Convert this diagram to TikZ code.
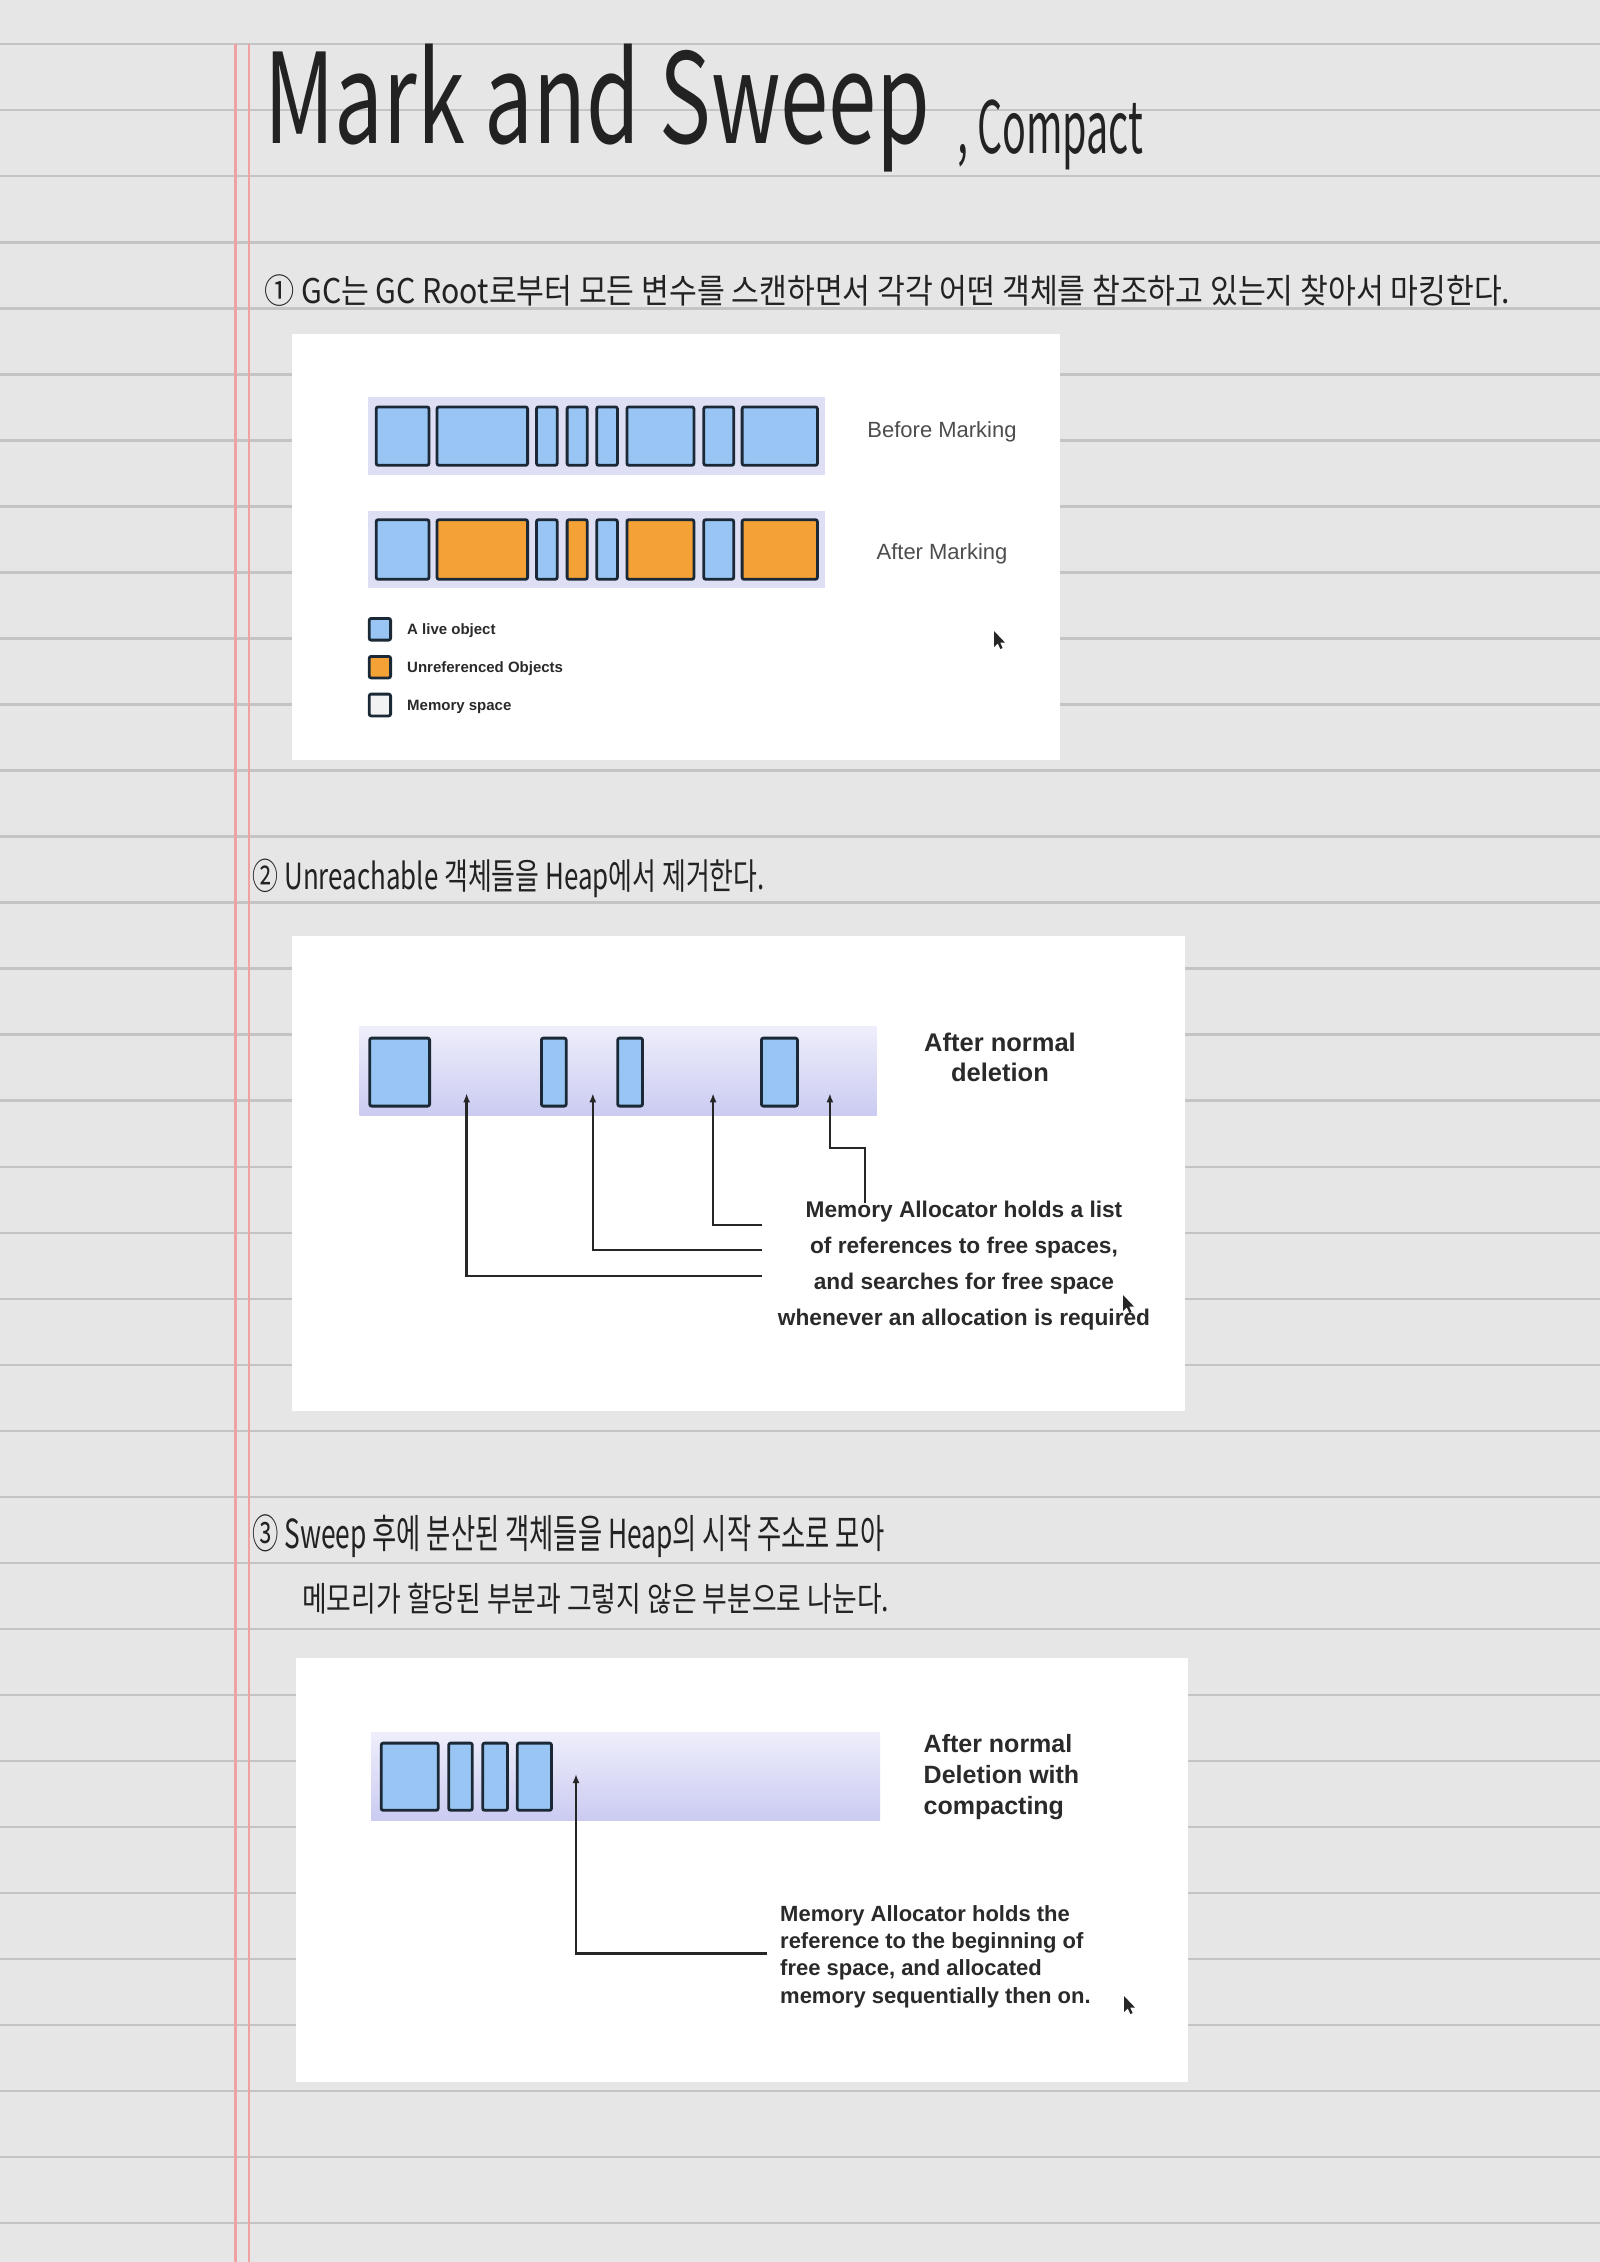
\documentclass[tikz,border=0pt]{standalone}
\usepackage{fontspec}
\setmainfont{Liberation Sans}
\newfontfamily\handfont{Noto Sans CJK KR}
\usetikzlibrary{arrows.meta}
\definecolor{gpaper}{HTML}{E6E6E6}
\definecolor{grule}{HTML}{C4C4C4}
\definecolor{gmargin}{HTML}{F0A2A2}
\definecolor{gbar}{HTML}{DEDEF5}
\definecolor{gbarhi}{HTML}{EEEEFB}
\definecolor{gbarlo}{HTML}{CBCBF2}
\definecolor{glive}{HTML}{98C5F4}
\definecolor{gdead}{HTML}{F4A236}
\definecolor{gfree}{HTML}{F2F2F2}
\definecolor{gedge}{HTML}{1B2836}
\definecolor{gink}{HTML}{262626}
\definecolor{gpen}{HTML}{222222}
\definecolor{gtext}{HTML}{2A2A2A}
\definecolor{gmuted}{HTML}{4D4D4D}
\newcommand{\glabel}{\fontsize{22}{26}\selectfont}
\newcommand{\gsmall}{\fontsize{15}{18}\selectfont\bfseries}
\newcommand{\scrawl}[3]{\resizebox{#1}{\height}{\fontsize{#2}{#2}\selectfont\handfont #3}}

\begin{document}
\begin{tikzpicture}[x=1pt,y=-1pt,
  live/.style={draw=gedge,line width=2.8pt,rounded corners=2pt,fill=glive},
  dead/.style={draw=gedge,line width=2.8pt,rounded corners=2pt,fill=gdead},
  spare/.style={draw=gedge,line width=2.8pt,rounded corners=2pt,fill=gfree},
  ptr/.style={gink,line width=2.5pt,-{Latex[length=9pt,width=7pt]}},
  mouse/.style={fill=black!85},
  hand/.style={anchor=base west,inner sep=0,text=gpen}]
\useasboundingbox (0,0) rectangle (1600,2262);
\fill[gpaper] (0,0) rectangle (1600,2262);
\foreach \k in {0,...,33} \draw[grule,line width=2.3pt] (0,{44.3+66.02*\k}) -- (1600,{44.3+66.02*\k});
\draw[gmargin,line width=3pt] (235.6,44) -- (235.6,2262);
\draw[gmargin,line width=2.2pt] (248.8,44) -- (248.8,2262);
\node[hand] (title) at (264,143) {\scrawl{666pt}{125}{Mark and Sweep}};
\node[hand] (compact) at (957,153) {\scrawl{186pt}{72}{, Compact}};
\node[hand] (step1) at (264,303) {\scrawl{1246pt}{34}{① GC는 GC Root로부터 모든 변수를 스캔하면서 각각 어떤 객체를 참조하고 있는지 찾아서 마킹한다.}};
\fill[white] (292,334) rectangle (1060,760);
\fill[gbar] (367.7,396.7) rectangle (825,475);
\draw[live] (376.2,406.9) rectangle (429.0,465.3); \draw[live] (437.0,406.9) rectangle (527.6,465.3);
\draw[live] (536.5,406.9) rectangle (557.2,465.3); \draw[live] (567.1,406.9) rectangle (587.3,465.3);
\draw[live] (596.7,406.9) rectangle (617.4,465.3); \draw[live] (626.9,406.9) rectangle (693.9,465.3);
\draw[live] (703.8,406.9) rectangle (733.7,465.3); \draw[live] (742.1,406.9) rectangle (817.4,465.3);
\node[text=gmuted,font=\glabel] (before) at (942,432) {Before Marking};
\fill[gbar] (367.7,510.7) rectangle (825,588.3);
\draw[live] (376.2,519.7) rectangle (429.0,579.3); \draw[dead] (437.0,519.7) rectangle (527.6,579.3);
\draw[live] (536.5,519.7) rectangle (557.2,579.3); \draw[dead] (567.1,519.7) rectangle (587.3,579.3);
\draw[live] (596.7,519.7) rectangle (617.4,579.3); \draw[dead] (626.9,519.7) rectangle (693.9,579.3);
\draw[live] (703.8,519.7) rectangle (733.7,579.3); \draw[dead] (742.1,519.7) rectangle (817.4,579.3);
\node[text=gmuted,font=\glabel] (after) at (942,554) {After Marking};
\draw[live] (369.2,618.4) rectangle (390.6,640.1);
\node[anchor=west,inner sep=0,text=gtext,font=\gsmall] (kalive) at (407,631) {A live object};
\draw[dead] (369.2,656.4) rectangle (390.6,677.9);
\node[anchor=west,inner sep=0,text=gtext,font=\gsmall] (kdead) at (407,669) {Unreferenced Objects};
\draw[spare] (369.2,694.1) rectangle (390.6,715.9);
\node[anchor=west,inner sep=0,text=gtext,font=\gsmall] (kfree) at (407,707) {Memory space};
\fill[mouse] (994,631) -- ++(0,16) -- ++(3.8,-3.6) -- ++(2.6,5.6) -- ++(2.2,-1) -- ++(-2.4,-5.4) -- ++(4.8,0) -- cycle;
\node[hand] (step2) at (252.5,889) {\scrawl{512pt}{36}{② Unreachable 객체들을 Heap에서 제거한다.}};
\fill[white] (292,936) rectangle (1185,1411);
\shade[top color=gbarhi,bottom color=gbarlo] (359.5,1026.7) rectangle (876.5,1115.5);
\draw[live] (369.7,1038.1) rectangle (429.6,1106.1); \draw[live] (541.4,1038.1) rectangle (566.2,1106.1);
\draw[live] (617.7,1038.1) rectangle (642.5,1106.1); \draw[live] (761.4,1038.1) rectangle (797.4,1106.1);
\node[text=gtext,font=\fontsize{25.5}{30}\selectfont\bfseries,align=center] (normal) at (1000,1057) {After normal\\deletion};
\node[text=gtext,font=\fontsize{22.7}{36}\selectfont\bfseries,align=center] (alloc) at (964,1266) {Memory Allocator holds a list\\of references to free spaces,\\and searches for free space\\whenever an allocation is required};
\coordinate (f1) at (466.6,1093.3); \coordinate (f2) at (592.8,1093.3);
\coordinate (f3) at (713.1,1093.3); \coordinate (f4) at (829.9,1093.3);
\coordinate (e1) at (762,1276); \coordinate (e2) at (762,1250);
\coordinate (e3) at (762,1225); \coordinate (e4) at (865,1203); \coordinate (k4) at (865,1148);
\draw[ptr] (e1) -| (f1); \draw[ptr] (e2) -| (f2); \draw[ptr] (e3) -| (f3);
\draw[ptr] (e4) -- (k4) -| (f4);
\fill[mouse] (1123,1295) -- ++(0,16) -- ++(3.8,-3.6) -- ++(2.6,5.6) -- ++(2.2,-1) -- ++(-2.4,-5.4) -- ++(4.8,0) -- cycle;
\node[hand] (step3) at (252,1548) {\scrawl{632pt}{40}{③ Sweep 후에 분산된 객체들을 Heap의 시작 주소로 모아}};
\node[hand] (step3b) at (302,1611) {\scrawl{587pt}{34}{메모리가 할당된 부분과 그렇지 않은 부분으로 나눈다.}};
\fill[white] (296,1657.5) rectangle (1188,2082);
\shade[top color=gbarhi,bottom color=gbarlo] (371,1732.7) rectangle (880,1820);
\draw[live] (381.2,1743.1) rectangle (438.2,1810.3); \draw[live] (448.7,1743.1) rectangle (472.3,1810.3);
\draw[live] (482.7,1743.1) rectangle (507.5,1810.3); \draw[live] (517.3,1743.1) rectangle (551.5,1810.3);
\node[anchor=west,text=gtext,font=\fontsize{25}{30.8}\selectfont\bfseries,align=left,inner sep=0] (compacted) at (923.5,1777) {After normal\\Deletion with\\compacting};
\node[anchor=west,text=gtext,font=\fontsize{22}{27.4}\selectfont\bfseries,align=left,inner sep=0] (head) at (780,1956.5) {Memory Allocator holds the\\reference to the beginning of\\free space, and allocated\\memory sequentially then on.};
\coordinate (f5) at (576,1774); \coordinate (e5) at (767,1953.3);
\draw[ptr] (e5) -| (f5);
\fill[mouse] (1124,1996) -- ++(0,16) -- ++(3.8,-3.6) -- ++(2.6,5.6) -- ++(2.2,-1) -- ++(-2.4,-5.4) -- ++(4.8,0) -- cycle;
\end{tikzpicture}
\end{document}
